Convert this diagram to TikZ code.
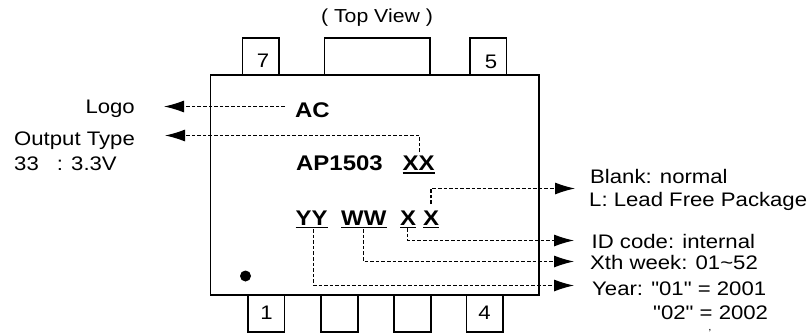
\documentclass[tikz,border=0pt]{standalone}
\usepackage{fontspec}
\usetikzlibrary{arrows.meta}
\setmainfont[FakeStretch=1.13,Ligatures=TeXOff]{Liberation Sans}
\tikzset{
  lab/.style={font=\fontsize{19.6}{22}\selectfont,inner sep=0pt,text=black},
  chipmark/.style={font=\fontsize{21.2}{22}\selectfont\bfseries,inner sep=0pt,anchor=base west},
  outl/.style={line width=1.8pt},
  dsh/.style={line width=1.1pt,dash pattern=on 3.6pt off 2pt},
  leader/.style={dsh,-{Latex[length=20pt,width=12pt]}},
  uline/.style={line width=1.7pt},
}
\begin{document}
\begin{tikzpicture}[x=1pt,y=-1pt]
\useasboundingbox (0,0) rectangle (809,335);
\fill[white] (0,0) rectangle (809,335);
% package body and pins
\draw[outl] (210.5,75) rectangle (539,295);
\draw[outl] (242.5,75) |- (279,38) -- (279,75);
\draw[outl] (324.5,75) |- (430,38) -- (430,75);
\draw[outl] (470,75) |- (506.5,38) -- (506.5,75);
\foreach \a/\b in {248/284.5,321/358,394/431,466.5/503}{
  \draw[outl] (\a,295) |- (\b,332) -- (\b,295);
}
\fill (245.5,276) circle (5.5);
% texts
\node[lab,anchor=base,font=\fontsize{18.8}{22}\selectfont] (top) at (377,22.5) {( Top View )};
\node[lab] (p7) at (263,61) {7};
\node[lab] (p5) at (491,62) {5};
\node[lab] (p1) at (266.5,312.5) {1};
\node[lab] (p4) at (484.5,312.5) {4};
\node[chipmark] (ac) at (295,117) {AC};
\node[chipmark] (ap) at (296,170.5) {AP1503};
\node[chipmark] (xx) at (402.5,170.5) {XX};
\node[chipmark] (yy) at (295.5,225) {YY};
\node[chipmark] (ww) at (341,225) {WW};
\node[chipmark] (xa) at (400,225) {X};
\node[chipmark] (xb) at (423,225) {X};
\foreach \n in {xx,yy,ww,xa,xb}{
  \draw[uline] ([yshift=-2.5pt]\n.base west) -- ([yshift=-2.5pt]\n.base east);
}
\node[lab,anchor=base east] (logo) at (135,113.5) {Logo};
\node[lab,anchor=base west] (out) at (14,145.5) {Output Type};
\node[lab,anchor=base west] (v33) at (14,170) {33\hspace{18pt}: 3.3V};
\node[lab,anchor=base west] (blank) at (590,183) {Blank: normal};
\node[lab,anchor=base west] (lead) at (589,206.5) {L: Lead Free Package};
\node[lab,anchor=base west] (id) at (591.5,248) {ID code: internal};
\node[lab,anchor=base west] (wk) at (590,269) {Xth week: 01\textasciitilde 52};
\node[lab,anchor=base west] (yr) at (592,295) {Year: "01" = 2001};
\node[lab,anchor=base west] (y2) at (653,319) {"02" = 2002};
\node[font=\fontsize{10}{10}\selectfont,inner sep=0pt] (tick) at (710,331) {,};
% connectors
\coordinate (logotip) at (164,106.5);
\coordinate (outtip) at (165,135.5);
\coordinate (acs) at (285,106.5);
\coordinate (xxs) at (419.5,152);
\coordinate (xbs) at (431,204);
\coordinate (xas) at (407.5,228);
\coordinate (wws) at (363.5,229);
\coordinate (yys) at (313.5,229);
\coordinate (blanktip) at (575,188.5);
\coordinate (idtip) at (574,240.5);
\coordinate (wktip) at (574,261.5);
\coordinate (yrtip) at (574,285.5);
\draw[leader] (acs) -- (logotip);
\draw[leader] (xxs) |- (outtip);
\draw[leader] (xbs) |- (blanktip);
\draw[leader] (xas) |- (idtip);
\draw[leader] (wws) |- (wktip);
\draw[leader] (yys) |- (yrtip);
\end{tikzpicture}
\end{document}
